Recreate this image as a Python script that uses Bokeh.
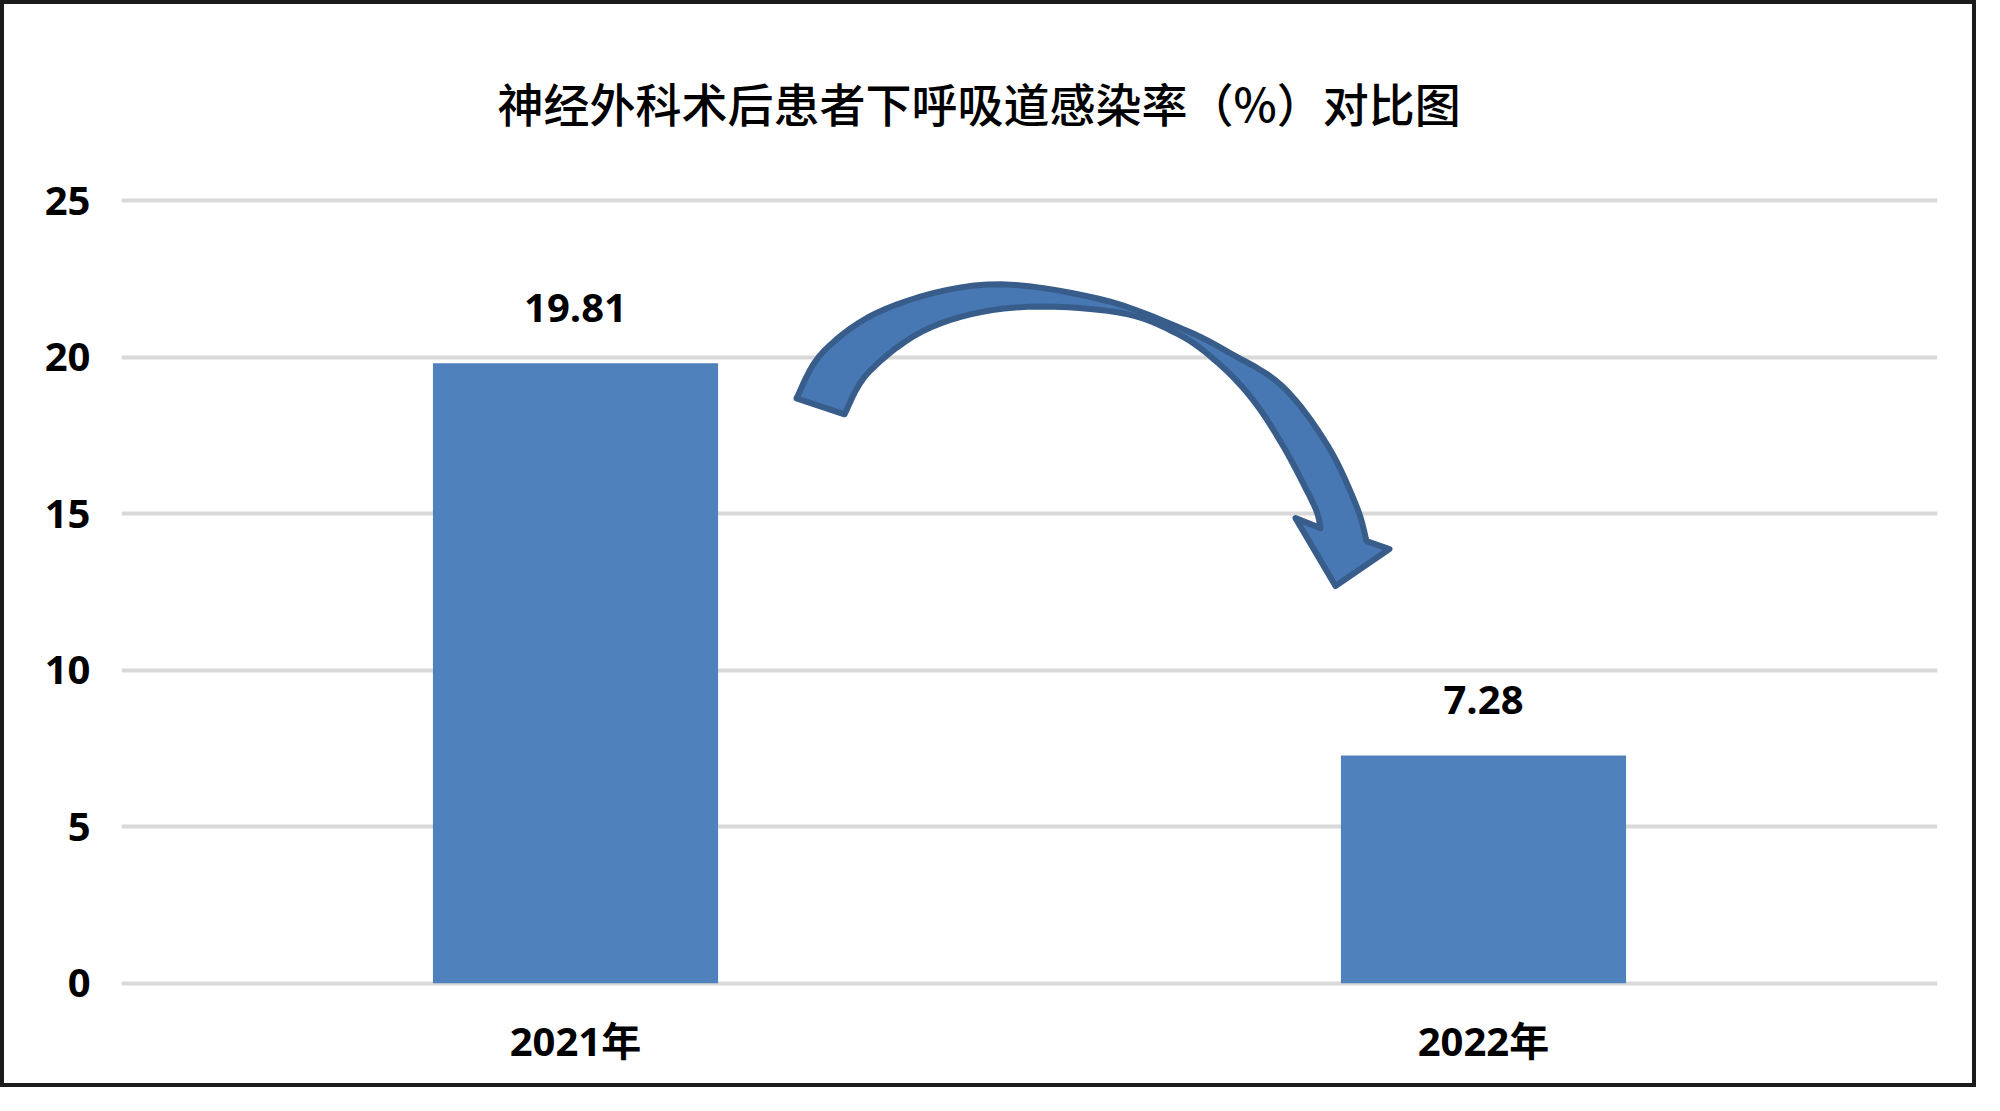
from bokeh.plotting import figure
from bokeh.models import FactorRange, FixedTicker, ColumnDataSource, Range1d
from bokeh.core.properties import value
from bokeh.embed import file_html
from bokeh.resources import INLINE

# ---- data ----
categories = ["2021年", "2022年"]
rates = [19.81, 7.28]
rate_labels = ["19.81", "7.28"]
y_ticks = [0, 5, 10, 15, 20, 25]
title_text = "神经外科术后患者下呼吸道感染率（%）对比图"

# ---- layout (canvas pixels) ----
W, H = 1976, 1087
FL, FR, FT, FB = 117, 43, 192, 105
y_lo, y_hi = -0.1, 25.1

num_font = "'Open Sans', 'Noto Sans CJK SC'"

p = figure(x_range=FactorRange(factors=categories, range_padding=0),
           y_range=Range1d(y_lo, y_hi), width=W, height=H,
           output_backend="svg", toolbar_location=None,
           min_border_left=FL, min_border_right=FR,
           min_border_top=FT, min_border_bottom=FB)
p.styles = {"border": "4px solid #1c1c1c"}
p.outline_line_color = None
p.background_fill_color = "white"
p.border_fill_color = "white"

# title
p.title.text = title_text
p.title.align = "left"
p.title.text_font = "'Noto Sans CJK SC Medium', 'Noto Sans CJK SC'"
p.title.text_font_size = "46px"
p.title.text_font_style = "normal"
p.title.text_color = "#000000"
p.title.standoff = 125
p.title.offset = 376

# grid
p.xgrid.grid_line_color = None
p.ygrid.grid_line_color = "#d9d9d9"
p.ygrid.grid_line_width = 4
p.ygrid.ticker = FixedTicker(ticks=y_ticks)

# axes
p.yaxis.ticker = FixedTicker(ticks=y_ticks)
for ax in (p.xaxis[0], p.yaxis[0]):
    ax.axis_line_color = None
    ax.major_tick_line_color = None
    ax.minor_tick_line_color = None
    ax.major_tick_out = 0
    ax.major_tick_in = 0
    ax.minor_tick_out = 0
    ax.major_label_text_font = num_font
    ax.major_label_text_font_style = "bold"
    ax.major_label_text_font_size = "40px"
    ax.major_label_text_color = "#000000"
p.yaxis.major_label_standoff = 31
p.xaxis.major_label_standoff = 26

src = ColumnDataSource(dict(cat=categories, rate=rates, lab=rate_labels))
p.vbar(x="cat", top="rate", width=0.314, bottom=0, source=src,
       fill_color="#4f81bd", line_color=None)

p.text(x="cat", y="rate", text="lab", source=src, y_offset=-55,
       text_align="center", text_baseline="middle",
       text_font=value(num_font), text_font_style="bold",
       text_font_size="40px", text_color="#000000")

# ---- curved decorative arrow (reference pixel positions) ----
REF_FL, REF_FB_Y = 121, 983
ref_unit_x = 908.0
ref_unit_y = 31.36

outer = [(796, 397), (823, 350), (886, 307), (987, 283), (1097, 297),
         (1181, 327), (1230, 352), (1282, 385), (1327, 444), (1356, 505),
         (1366, 540)]
inner = [(844, 413), (869, 370), (930, 326), (1015, 306), (1118, 311),
         (1178, 333), (1218, 362), (1252, 398), (1281, 442), (1303, 483),
         (1316, 510), (1320, 527)]
head = [(1389, 548), (1335, 585), (1295, 517)]


def smooth(pts, n=8):
    out = []
    m = len(pts)
    for i in range(m - 1):
        p0 = pts[max(i - 1, 0)]
        p1 = pts[i]
        p2 = pts[i + 1]
        p3 = pts[min(i + 2, m - 1)]
        for k in range(n):
            t = k / n
            t2, t3 = t * t, t * t * t
            x = 0.5 * ((2 * p1[0]) + (-p0[0] + p2[0]) * t +
                       (2 * p0[0] - 5 * p1[0] + 4 * p2[0] - p3[0]) * t2 +
                       (-p0[0] + 3 * p1[0] - 3 * p2[0] + p3[0]) * t3)
            y = 0.5 * ((2 * p1[1]) + (-p0[1] + p2[1]) * t +
                       (2 * p0[1] - 5 * p1[1] + 4 * p2[1] - p3[1]) * t2 +
                       (-p0[1] + 3 * p1[1] - 3 * p2[1] + p3[1]) * t3)
            out.append((x, y))
    out.append(pts[-1])
    return out


poly = smooth(outer) + head + smooth(inner)[::-1]
ax_ = [(px - REF_FL) / ref_unit_x for px, py in poly]
ay_ = [(REF_FB_Y - py) / ref_unit_y for px, py in poly]
p.patch(ax_, ay_, fill_color="#4778b4", line_color="#385d8a",
        line_width=6, line_join="round")

open("out.html", "w").write(file_html(p, INLINE))
